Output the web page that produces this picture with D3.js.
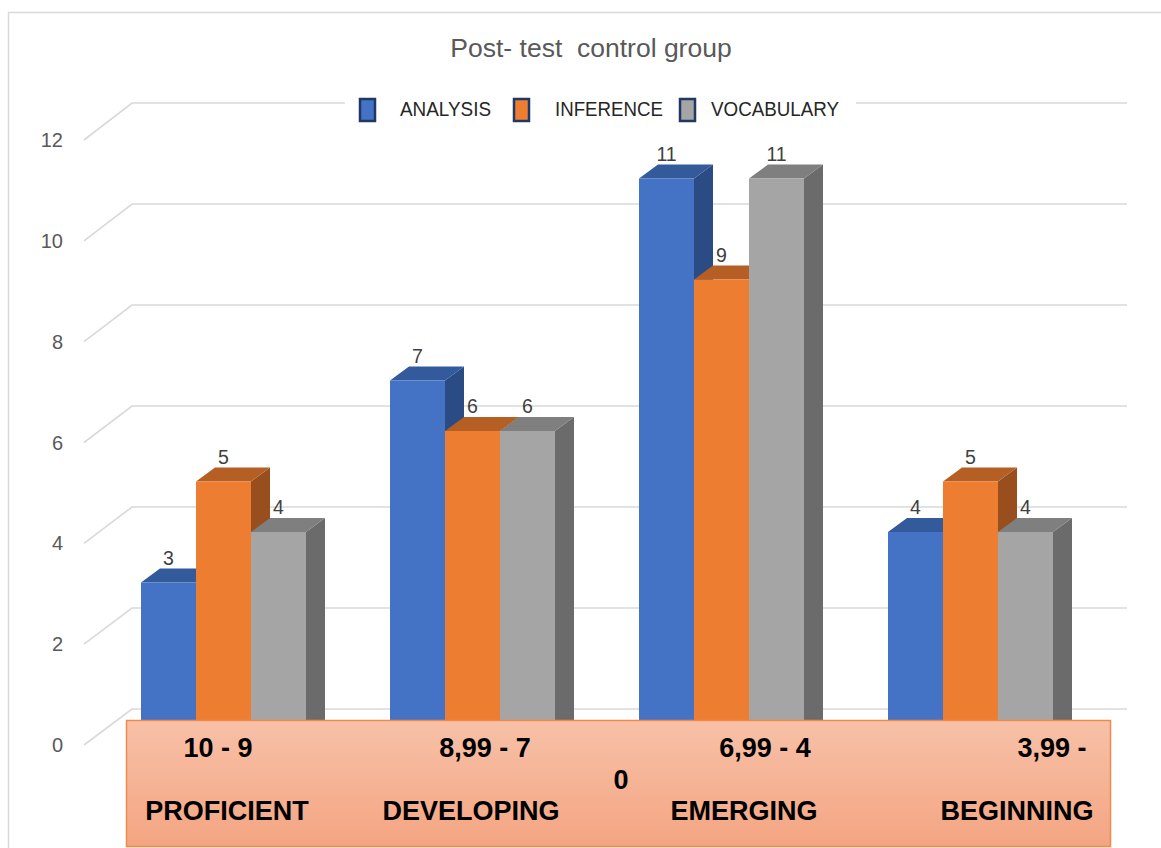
<!DOCTYPE html>
<html>
<head>
<meta charset="utf-8">
<script src="https://cdn.jsdelivr.net/npm/d3@7"></script>
<style>
  html, body { margin: 0; padding: 0; background: #ffffff; }
  svg { display: block; }
</style>
</head>
<body>
<svg id="chart" width="1161" height="848"></svg>
<script>
// Post-test results, control group
const categories = ["PROFICIENT", "DEVELOPING", "EMERGING", "BEGINNING"];
const ranges = ["10 - 9", "8,99 - 7", "6,99 - 4", "3,99 -"];
const seriesNames = ["ANALYSIS", "INFERENCE", "VOCABULARY"];
const analysis = [3, 7, 11, 4];
const inference = [5, 6, 9, 5];
const vocabulary = [4, 6, 11, 4];
const yTicks = [0, 2, 4, 6, 8, 10, 12];
const titleText = "Post- test  control group";

const seriesValues = [analysis, inference, vocabulary];
const palette = {
  ANALYSIS:   { front: "#4472c4", top: "#335a9b", side: "#2a4b83" },
  INFERENCE:  { front: "#ed7d31", top: "#b55f25", side: "#984f1d" },
  VOCABULARY: { front: "#a5a5a5", top: "#7f7f7f", side: "#6b6b6b" }
};

const svg = d3.select("#chart");

// outer chart frame
svg.append("rect")
  .attr("x", 8.5).attr("y", 12.5)
  .attr("width", 1170).attr("height", 850)
  .attr("fill", "#ffffff")
  .attr("stroke", "#d9d9d9").attr("stroke-width", 1.5);

// oblique 3D projection: back wall, front label plane and bar front plane
const yBack = d3.scaleLinear().domain([0, 12]).range([709, 103]);
const yFront = d3.scaleLinear().domain([0, 12]).range([734, 128]);
const yLabel = d3.scaleLinear().domain([0, 12]).range([745, 140]);
const wallLeft = 132, wallRight = 1127, labelEdge = 84;
const depth = { dx: 19, dy: -14 };

const xGroup = d3.scaleBand()
  .domain(categories)
  .range([99, 1095])
  .paddingInner(84 / 249)
  .paddingOuter(42 / 249);
const xSeries = d3.scaleBand()
  .domain(seriesNames)
  .range([0, xGroup.bandwidth()]);

// gridlines: diagonal from the label plane to the back wall, then along the wall
const grid = svg.append("g").attr("fill", "none")
  .attr("stroke", "#d9d9d9").attr("stroke-width", 1.6);
grid.selectAll("path").data(yTicks).join("path")
  .attr("d", v => `M${labelEdge},${yLabel(v)} L${wallLeft},${yBack(v)} L${wallRight},${yBack(v)}`);

// value axis labels
svg.append("g").selectAll("text").data(yTicks).join("text")
  .attr("x", 63).attr("y", v => yLabel(v))
  .attr("dy", "0.35em")
  .attr("text-anchor", "end")
  .attr("font-family", "Liberation Sans, Arial, sans-serif")
  .attr("font-size", 20)
  .attr("fill", "#595959")
  .text(v => v);

// title
svg.append("text")
  .attr("x", 591).attr("y", 57)
  .attr("text-anchor", "middle")
  .attr("font-family", "Liberation Sans, Arial, sans-serif")
  .attr("font-size", 26.5)
  .attr("fill", "#595959")
  .style("white-space", "pre")
  .attr("xml:space", "preserve")
  .text(titleText);

// legend (sits on a white band that interrupts the top gridline)
svg.append("rect")
  .attr("x", 345).attr("y", 92).attr("width", 511).attr("height", 34)
  .attr("fill", "#ffffff");
const legendItems = [
  { name: "ANALYSIS", mx: 360, tx: 400, tw: 91 },
  { name: "INFERENCE", mx: 514, tx: 555, tw: 108 },
  { name: "VOCABULARY", mx: 680, tx: 711, tw: 128 }
];
const leg = svg.append("g").selectAll("g").data(legendItems).join("g");
leg.append("rect")
  .attr("x", d => d.mx).attr("y", 99)
  .attr("width", 15).attr("height", 22)
  .attr("fill", d => palette[d.name].front)
  .attr("stroke", "#1f3864").attr("stroke-width", 2.5);
leg.append("text")
  .attr("x", d => d.tx).attr("y", 115.5)
  .attr("textLength", d => d.tw)
  .attr("lengthAdjust", "spacingAndGlyphs")
  .attr("font-family", "Liberation Sans, Arial, sans-serif")
  .attr("font-size", 21)
  .attr("fill", "#262626")
  .text(d => d.name);

// bars, painted left to right so nearer faces overlap farther ones
const bars = [];
categories.forEach((c, ci) => {
  seriesNames.forEach((s, si) => {
    bars.push({ cat: c, series: s, value: seriesValues[si][ci] });
  });
});

const barG = svg.append("g");
bars.forEach(b => {
  const x0 = xGroup(b.cat) + xSeries(b.series);
  const x1 = x0 + xSeries.bandwidth();
  const yT = yFront(b.value);
  const yB = yFront(0);
  const { dx, dy } = depth;
  const col = palette[b.series];
  const g = barG.append("g");
  g.append("path") // side face
    .attr("d", `M${x1},${yT} L${x1 + dx},${yT + dy} L${x1 + dx},${yB + dy} L${x1},${yB} Z`)
    .attr("fill", col.side);
  g.append("path") // top face
    .attr("d", `M${x0},${yT} L${x0 + dx},${yT + dy} L${x1 + dx},${yT + dy} L${x1},${yT} Z`)
    .attr("fill", col.top);
  g.append("rect") // front face
    .attr("x", x0).attr("y", yT)
    .attr("width", x1 - x0).attr("height", yB - yT)
    .attr("fill", col.front);
});

// data labels above each bar
svg.append("g").selectAll("text").data(bars).join("text")
  .attr("x", d => xGroup(d.cat) + xSeries(d.series) + xSeries.bandwidth() / 2)
  .attr("y", d => yFront(d.value) - 18)
  .attr("text-anchor", "middle")
  .attr("font-family", "Liberation Sans, Arial, sans-serif")
  .attr("font-size", 19.5)
  .attr("fill", "#404040")
  .text(d => d.value);

// category label band
const defs = svg.append("defs");
const grad = defs.append("linearGradient")
  .attr("id", "bandFill").attr("x1", 0).attr("y1", 0).attr("x2", 0).attr("y2", 1);
grad.append("stop").attr("offset", "0%").attr("stop-color", "#f7c1a8");
grad.append("stop").attr("offset", "100%").attr("stop-color", "#f4a582");
svg.append("rect")
  .attr("x", 126.5).attr("y", 720.5)
  .attr("width", 984).attr("height", 126)
  .attr("fill", "url(#bandFill)")
  .attr("stroke", "#f08a4b").attr("stroke-width", 1.5);

const labelFont = "Liberation Sans, Arial, sans-serif";
const rangeX = [218, 485, 765, 1052];
const nameX = [227, 471, 744, 1017];
svg.append("g").selectAll("text").data(ranges).join("text")
  .attr("x", (d, i) => rangeX[i]).attr("y", 757)
  .attr("text-anchor", "middle")
  .attr("font-family", labelFont).attr("font-weight", "bold")
  .attr("font-size", 27).attr("fill", "#000000")
  .text(d => d);
svg.append("g").selectAll("text").data(categories).join("text")
  .attr("x", (d, i) => nameX[i]).attr("y", 820)
  .attr("text-anchor", "middle")
  .attr("font-family", labelFont).attr("font-weight", "bold")
  .attr("font-size", 27).attr("fill", "#000000")
  .text(d => d);
// trailing lower bound of the last range, wrapped onto its own line
svg.append("text")
  .attr("x", 621).attr("y", 789)
  .attr("text-anchor", "middle")
  .attr("font-family", labelFont).attr("font-weight", "bold")
  .attr("font-size", 27).attr("fill", "#000000")
  .text("0");
</script>
</body>
</html>
